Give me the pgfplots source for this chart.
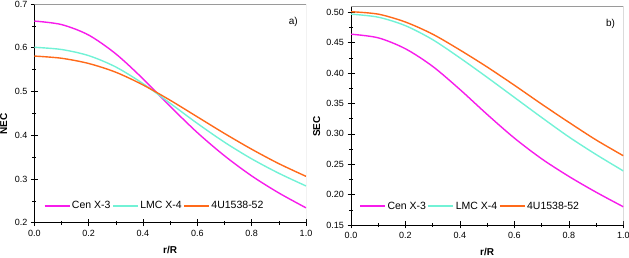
\documentclass[border=0pt]{standalone}
\usepackage{pgfplots}
\pgfplotsset{compat=1.18}
\usepackage{fontspec}
\setmainfont{Liberation Sans}
\definecolor{cmag}{HTML}{F71CEB}
\definecolor{ccyan}{HTML}{72F2D6}
\definecolor{corange}{HTML}{FF6A1A}
\definecolor{cbox}{HTML}{9A9A9A}
\pgfplotsset{
  panel/.style={
    scale only axis,
    axis lines=left,
    axis line style={-, black, line width=0.7pt},
    xmin=0, xmax=1,
    xtick={0,0.2,0.4,0.6,0.8,1.0},
    minor x tick num=1,
    minor y tick num=1,
    tick align=center,
    major tick length=7pt,
    minor tick length=4pt,
    tick style={black, line width=0.6pt},
    tick label style={font=\fontsize{9}{10}\selectfont},
    x tick label style={/pgf/number format/.cd, fixed, fixed zerofill, precision=1, assume math mode=true},
    xlabel={\textbf{r/R}},
    xlabel style={font=\fontsize{10}{12}\selectfont, anchor=center, at={(axis description cs:0.5,-0.124)}},
    ylabel style={font=\fontsize{10}{12}\selectfont, anchor=center},
    legend columns=3,
    legend style={draw=none, fill=none, inner sep=0pt, column sep=0pt,
      nodes={inner xsep=1.6pt, inner ysep=1pt, font=\fontsize{10.5}{12}\selectfont}},
  },
  cur/.style={line width=1.4pt, smooth, tension=0.5, no markers, color=#1,
    legend image code/.code={\draw[#1, line width=1.6pt] (0pt,0pt) -- (25pt,0pt);}},
}
\begin{document}
\begin{tikzpicture}
\path[use as bounding box] (0pt,0pt) rectangle (629pt,257pt);
% ---------------- panel a ----------------
\begin{axis}[panel,
  at={(34.3pt,34.3pt)}, anchor=south west,
  width=271.7pt, height=218.7pt,
  ymin=0.2, ymax=0.7,
  ytick={0.2,0.3,0.4,0.5,0.6,0.7},
  y tick label style={/pgf/number format/.cd, fixed, fixed zerofill, precision=1, assume math mode=true},
  ylabel={\textbf{NEC}},
  ylabel style={at={(axis description cs:-0.113,0.45)}},
  legend style={at={(axis description cs:0.034,0.076)}, anchor=west},
]
\draw[cbox, line width=0.7pt] (rel axis cs:0,1) -- (rel axis cs:1,1) -- (rel axis cs:1,0);
\addplot[cur=cmag] coordinates {(0,0.661) (0.1,0.653) (0.2,0.629) (0.3,0.586) (0.4,0.529) (0.5,0.466) (0.6,0.406) (0.7,0.353) (0.8,0.307) (0.9,0.268) (1.0,0.234)};
\addlegendentry{Cen X-3}
\addplot[cur=ccyan] coordinates {(0,0.601) (0.1,0.596) (0.2,0.582) (0.3,0.556) (0.4,0.518) (0.5,0.473) (0.6,0.427) (0.7,0.384) (0.8,0.346) (0.9,0.313) (1.0,0.284)};
\addlegendentry{LMC X-4}
\addplot[cur=corange] coordinates {(0,0.581) (0.1,0.576) (0.2,0.564) (0.3,0.544) (0.4,0.515) (0.5,0.480) (0.6,0.442) (0.7,0.404) (0.8,0.368) (0.9,0.335) (1.0,0.306)};
\addlegendentry{4U1538-52}
\node[anchor=north east, font=\fontsize{10}{12}\selectfont, inner sep=0pt] at (rel axis cs:0.97,0.94) {a)};
\end{axis}
% ---------------- panel b ----------------
\begin{axis}[panel,
  at={(351pt,32pt)}, anchor=south west,
  width=272.3pt, height=219pt,
  ymin=0.15, ymax=0.5104,
  ytick={0.15,0.20,0.25,0.30,0.35,0.40,0.45,0.50},
  y tick label style={/pgf/number format/.cd, fixed, fixed zerofill, precision=2, assume math mode=true},
  ylabel={\textbf{SEC}},
  ylabel style={at={(axis description cs:-0.126,0.45)}},
  legend style={at={(axis description cs:0.030,0.086)}, anchor=west},
]
\draw[cbox, line width=0.7pt] (rel axis cs:0,1) -- (rel axis cs:1,1) -- (rel axis cs:1,0);
\addplot[cur=cmag] coordinates {(0,0.464) (0.1,0.458) (0.2,0.440) (0.3,0.411) (0.4,0.373) (0.5,0.332) (0.6,0.293) (0.7,0.259) (0.8,0.230) (0.9,0.204) (1.0,0.180)};
\addlegendentry{Cen X-3}
\addplot[cur=ccyan] coordinates {(0,0.497) (0.1,0.492) (0.2,0.478) (0.3,0.455) (0.4,0.425) (0.5,0.393) (0.6,0.360) (0.7,0.327) (0.8,0.295) (0.9,0.266) (1.0,0.239)};
\addlegendentry{LMC X-4}
\addplot[cur=corange] coordinates {(0,0.501) (0.1,0.497) (0.2,0.484) (0.3,0.464) (0.4,0.438) (0.5,0.410) (0.6,0.380) (0.7,0.349) (0.8,0.319) (0.9,0.290) (1.0,0.264)};
\addlegendentry{4U1538-52}
\node[anchor=north east, font=\fontsize{10}{12}\selectfont, inner sep=0pt] at (rel axis cs:0.97,0.94) {b)};
\end{axis}
\end{tikzpicture}
\end{document}
